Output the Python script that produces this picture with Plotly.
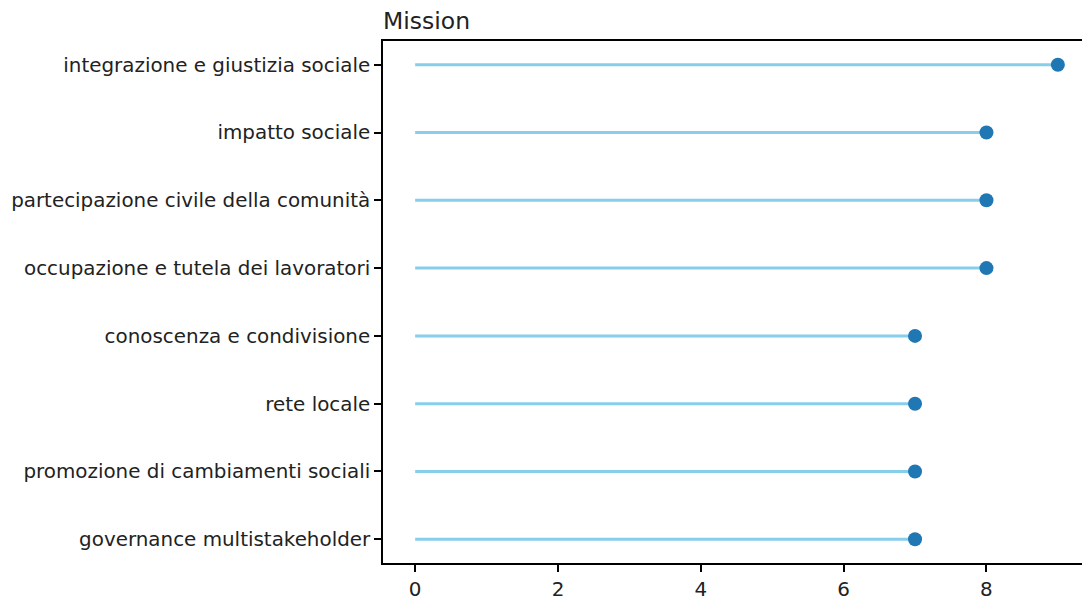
import plotly.graph_objects as go

categories = [
    "governance multistakeholder",
    "promozione di cambiamenti sociali",
    "rete locale",
    "conoscenza e condivisione",
    "occupazione e tutela dei lavoratori",
    "partecipazione civile della comunità",
    "impatto sociale",
    "integrazione e giustizia sociale",
]
values = [7, 7, 7, 7, 8, 8, 8, 9]
x_ticks = [0, 2, 4, 6, 8]
title_text = "Mission"

stem_x, stem_y = [], []
for c, v in zip(categories, values):
    stem_x += [0, v, None]
    stem_y += [c, c, None]

fig = go.Figure()
fig.add_trace(go.Scatter(x=stem_x, y=stem_y, mode="lines",
                         line=dict(color="#87CEEB", width=3),
                         hoverinfo="skip", showlegend=False))
fig.add_trace(go.Scatter(x=values, y=categories, mode="markers",
                         marker=dict(color="#1f77b4", size=14),
                         showlegend=False))

fig.update_layout(
    width=1082, height=601,
    margin=dict(l=383, r=0, t=41, b=33),
    paper_bgcolor="white", plot_bgcolor="white",
    font=dict(family="DejaVu Sans", size=19.9, color="#222"),
    title=dict(text=title_text, x=383/1082, xanchor="left", xref="container",
               y=1 - 21/601, yanchor="middle", yref="container",
               font=dict(size=23.5, color="#222")),
)
fig.update_xaxes(range=[-0.45, 9.338], tickvals=x_ticks, showgrid=False,
                 zeroline=False, showline=True, linecolor="black", linewidth=1.6,
                 mirror=True, ticks="outside", ticklen=7, tickcolor="black",
                 tickwidth=1.6)
fig.update_yaxes(type="category", categoryorder="array", categoryarray=categories,
                 range=[-0.35, 7.35], showgrid=False, zeroline=False,
                 showline=True, linecolor="black", linewidth=1.6,
                 ticks="outside", ticklen=7, tickcolor="black", tickwidth=1.6)

fig.write_html("out.html", config={"displayModeBar": False},
               post_script="document.body.style.margin='0';")
